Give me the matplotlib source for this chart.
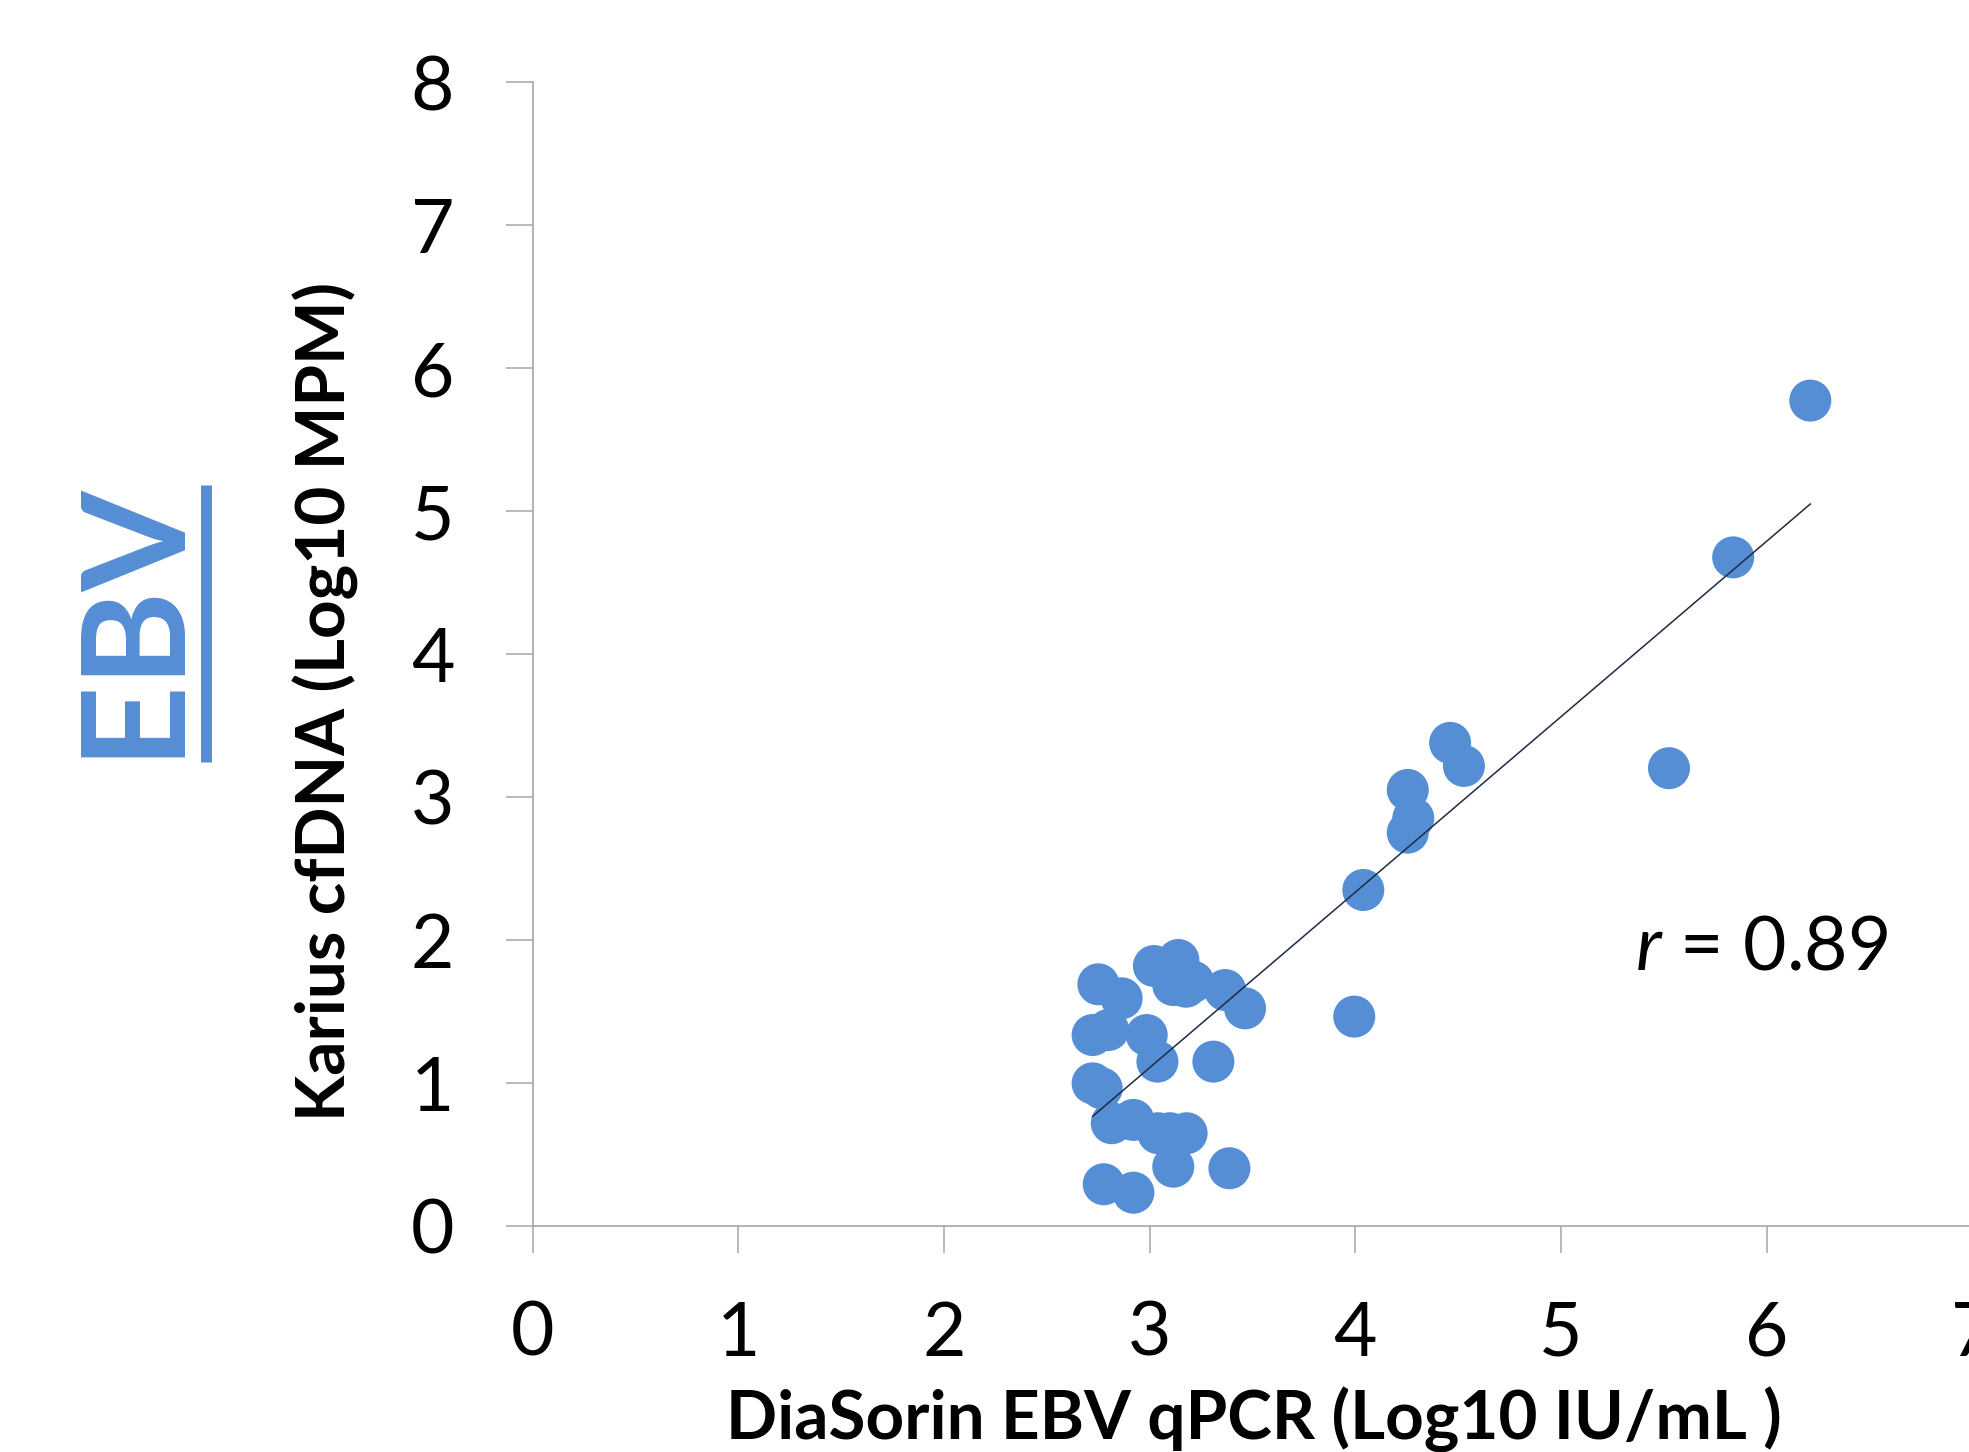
import numpy as np
import matplotlib
matplotlib.use("Agg")
import matplotlib.pyplot as plt
from matplotlib.lines import Line2D

# ---- data ----
qpcr_log10 = [6.212, 5.837, 5.525,
              4.461, 4.528, 4.255, 4.282, 4.255, 4.039, 3.995,
              2.751, 2.864, 3.021, 3.140, 3.115, 3.177, 3.212, 3.367, 3.464,
              2.723, 2.799, 2.986, 3.038, 3.310,
              2.723, 2.767, 2.816, 2.921, 3.042, 3.099, 3.180,
              3.115, 3.388, 2.777, 2.921]
cfdna_log10 = [5.773, 4.676, 3.201,
               3.378, 3.217, 3.049, 2.851, 2.750, 2.349, 1.463,
               1.689, 1.591, 1.817, 1.859, 1.684, 1.672, 1.707, 1.649, 1.521,
               1.334, 1.369, 1.334, 1.148, 1.148,
               0.996, 0.961, 0.717, 0.740, 0.647, 0.647, 0.647,
               0.413, 0.402, 0.290, 0.231]
x_ticks = [0, 1, 2, 3, 4, 5, 6, 7]
y_ticks = [0, 1, 2, 3, 4, 5, 6, 7, 8]
r_label = "0.89"

W, H = 1969, 1452
DPI = 100
BLUE = "#558ED5"
GRAY = "#A6A6A6"
FONT = ["Lato", "DejaVu Sans"]

plt.rcParams["font.family"] = FONT
plt.rcParams["mathtext.fontset"] = "custom"
plt.rcParams["mathtext.it"] = "Lato:italic"
plt.rcParams["mathtext.rm"] = "Lato"

fig = plt.figure(figsize=(W / DPI, H / DPI), dpi=DPI)
ax = fig.add_axes([532.5 / W, 1 - 1225.7 / H, 1439.9 / W, 1143.4 / H])

x = np.array(qpcr_log10)
y = np.array(cfdna_log10)
ax.scatter(x, y, s=915, color=BLUE, edgecolors="none", zorder=2)

slope, intercept = np.polyfit(x, y, 1)
xl = np.array([x.min(), x.max()])
ax.plot(xl, slope * xl + intercept, color="#1F2A44", lw=1.1, zorder=3)

ax.set_xlim(0, 7)
ax.set_ylim(0, 8)
ax.set_xticks(x_ticks)
ax.set_yticks(y_ticks)
for s in ["top", "right"]:
    ax.spines[s].set_visible(False)
for s in ["left", "bottom"]:
    ax.spines[s].set_color(GRAY)
    ax.spines[s].set_linewidth(1.2)
ax.tick_params(axis="both", direction="out", length=19.4, width=1.1,
               color=GRAY, labelsize=54, labelcolor="black")
ax.tick_params(axis="y", pad=37)
ax.tick_params(axis="x", pad=34)

# axis titles
fig.text(1254 / W, 1 - 1440 / H, "DiaSorin EBV qPCR (Log10 IU/mL )",
         ha="center", va="baseline", fontsize=48.5, fontweight="bold")
fig.text(346 / W, 1 - 701.5 / H, "Karius cfDNA (Log10 MPM)",
         rotation=90, rotation_mode="anchor", ha="center", va="baseline",
         fontsize=48.5, fontweight="bold")

# big title with underline
fig.text(174 / W, 1 - 618 / H, "EBV", rotation=90, rotation_mode="anchor",
         ha="center", va="baseline", fontsize=104, fontweight="bold", color=BLUE)
fig.add_artist(Line2D([205.5 / W, 205.5 / W], [1 - 762 / H, 1 - 485 / H],
                      transform=fig.transFigure, color=BLUE, lw=7.9,
                      solid_capstyle="butt"))

# correlation annotation
fig.text(1635 / W, 1 - 969 / H, r"$\it{r}$ = " + r_label,
         ha="left", va="baseline", fontsize=54)

fig.savefig("out.png", dpi=DPI)
